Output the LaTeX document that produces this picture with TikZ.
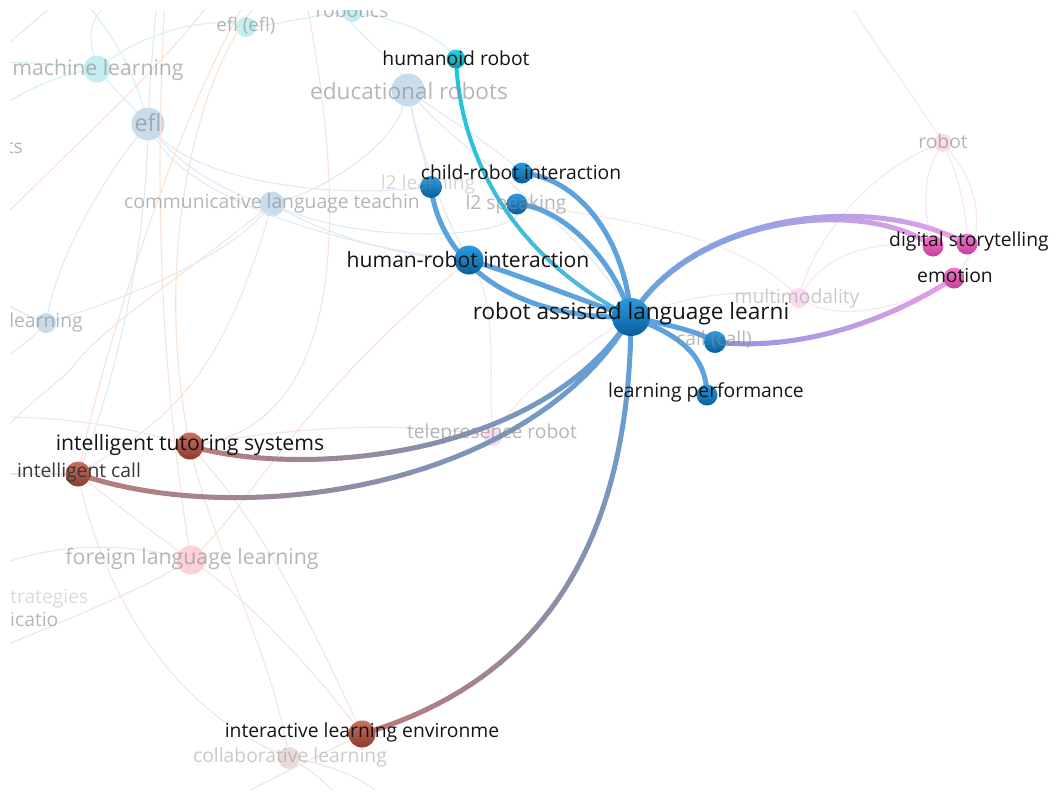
\documentclass[tikz,border=0pt]{standalone}
\usepackage{fontspec}
\setmainfont{Open Sans}
\definecolor{fcyan}{HTML}{D6F2F6}
\definecolor{fblue}{HTML}{DFEAF6}
\definecolor{forange}{HTML}{FAE3D6}
\definecolor{fred}{HTML}{F8E3E3}
\definecolor{fpink}{HTML}{FAE5F3}
\definecolor{eblue}{HTML}{5DA2DD}
\definecolor{ecyan}{HTML}{1CC6D8}
\definecolor{ecyanb}{HTML}{55B4E0}
\definecolor{epink}{HTML}{E8A0E6}
\definecolor{ebrown}{HTML}{B97B78}
\definecolor{elav}{HTML}{8E96E4}
\definecolor{nb1}{HTML}{2A9BE0}
\definecolor{nb2}{HTML}{0A5E9C}
\definecolor{nc1}{HTML}{22D4E4}
\definecolor{nc2}{HTML}{0A9AAE}
\definecolor{np1}{HTML}{F27CCC}
\definecolor{np2}{HTML}{C63E9A}
\definecolor{nr1}{HTML}{CC7060}
\definecolor{nr2}{HTML}{8A3C2E}
\definecolor{ncy}{HTML}{C2EEF2}
\definecolor{nbl}{HTML}{C8DCEC}
\definecolor{npk}{HTML}{FBD2D8}
\definecolor{nmg}{HTML}{FADCEE}
\definecolor{ncl}{HTML}{EBDADA}
\tikzset{
  lab/.style={font=\fontsize{19.3}{22}\selectfont, text=black!92, inner sep=0pt},
  flab/.style={font=\fontsize{19.3}{22}\selectfont, text=black!46, text opacity=0.62, inner sep=0pt},
  hb/.style={circle, inner sep=0pt, top color=nb1, bottom color=nb2},
  hc/.style={circle, inner sep=0pt, top color=nc1, bottom color=nc2},
  hp/.style={circle, inner sep=0pt, top color=np1, bottom color=np2},
  hr/.style={circle, inner sep=0pt, top color=nr1, bottom color=nr2},
  fn/.style={circle, inner sep=0pt, fill=#1},
  fe/.style={line width=1.1pt, draw=#1},
  be/.style={line width=5pt, draw=eblue, line cap=round},
}
\newcommand\gradedge[6]{%
  \foreach \k in {0,...,40}{%
    \pgfmathsetmacro\tpos{\k/40}%
    \path (#1.center) .. controls #3 .. (#2.center) coordinate[pos=\tpos] (gp\k);}%
  \foreach \k in {1,...,40}{%
    \pgfmathtruncatemacro\kp{\k-1}%
    \pgfmathsetmacro\cmix{101.25-2.5*\k}%
    \colorlet{gcol}{#4!\cmix!#5}%
    \draw[line width=#6, line cap=round, draw=gcol] (gp\kp) -- (gp\k);}%
}
\begin{document}
\begin{tikzpicture}[x=1pt,y=-1pt]
\useasboundingbox[fill=white] (0,0) rectangle (1061,793);
\begin{scope}
\clip (10,10) rectangle (1052,789);
% ---------- faded nodes ----------
\node[fn=ncy, minimum size=20] (robotics) at (352,12) {};
\node[fn=ncy, minimum size=20] (eflefl) at (246,27) {};
\node[fn=ncy, minimum size=27] (ml) at (97,69) {};
\node[fn=nbl, minimum size=33] (edu) at (408,90) {};
\node[fn=nbl, minimum size=33] (efl) at (148,124) {};
\node[fn=nbl, minimum size=25] (comm) at (272,204) {};
\node[fn=nbl, minimum size=20] (learn) at (46,323) {};
\node[fn=npk, minimum size=29] (fll) at (191,560) {};
\node[fn=nmg, minimum size=18] (tele) at (493,437) {};
\node[fn=nmg, minimum size=20] (multi) at (799,298) {};
\node[fn=nmg, minimum size=18] (robot) at (943,143) {};
\node[fn=ncl, minimum size=22] (collab) at (289,758) {};
% ---------- highlighted nodes (positions) ----------
\coordinate (cen) at (631,317);
\coordinate (hum) at (456,59);
\coordinate (l2l) at (431,187);
\coordinate (cri) at (522,173);
\coordinate (l2s) at (517,204);
\coordinate (hri) at (469,260);
\coordinate (call) at (715,342);
\coordinate (lp) at (707,395);
\coordinate (ds1) at (933,246);
\coordinate (ds2) at (967,244);
\coordinate (emo) at (954,278);
\coordinate (its) at (190,446);
\coordinate (ic) at (78,474);
\coordinate (ile) at (362,734);
% off-picture ends of faint links
\coordinate (o1) at (-5,55);   \coordinate (o2) at (65,-5);
\coordinate (o3) at (-5,225);  \coordinate (o4) at (215,-5);
\coordinate (o5) at (250,-5);  \coordinate (o6) at (265,-5);
\coordinate (o7) at (165,-5);  \coordinate (o8) at (305,-5);
\coordinate (o9) at (-5,62);   \coordinate (o10) at (-5,110);
\coordinate (o11) at (80,-5);  \coordinate (o12) at (157,-5);
\coordinate (o13) at (-5,300); \coordinate (o14) at (-5,365);
\coordinate (o15) at (-5,417); \coordinate (o16) at (-5,474);
\coordinate (o17) at (-5,440); \coordinate (o18) at (-5,567);
\coordinate (o19) at (340,800);\coordinate (o20) at (385,800);
\coordinate (o21) at (845,-5); \coordinate (o22) at (230,800);
\coordinate (o23) at (120,-5); \coordinate (o24) at (-5,650);
\coordinate (o25) at (330,-5);
% ---------- faint links ----------
\draw[fe=fcyan] (ml) .. controls (120,95) and (135,110) .. (efl);
\draw[fe=fcyan] (ml) .. controls (60,64) and (20,62) .. (o9);
\draw[fe=fcyan] (ml) .. controls (60,75) and (25,90) .. (o10);
\draw[fe=fcyan] (ml) .. controls (150,30) and (210,18) .. (eflefl);
\draw[fe=fcyan] (eflefl) .. controls (280,24) and (320,14) .. (robotics);
\draw[fe=fcyan] (o25) .. controls (360,40) and (395,60) .. (edu);
\draw[fe=fcyan] (robotics) .. controls (400,20) and (440,35) .. (hum);
\draw[fe=fcyan] (efl) .. controls (130,60) and (105,25) .. (o11);
\draw[fe=fcyan] (ml) .. controls (90,40) and (85,15) .. (o23);
\draw[fe=fblue] (efl) .. controls (150,70) and (155,30) .. (o12);
\draw[fe=fblue] (efl) .. controls (200,180) and (330,200) .. (l2l);
\draw[fe=fblue] (efl) .. controls (180,165) and (230,195) .. (comm);
\draw[fe=fblue] (efl) .. controls (190,200) and (350,250) .. (hri);
\draw[fe=fblue] (efl) .. controls (145,260) and (110,400) .. (ic);
\draw[fe=fblue] (edu) .. controls (420,150) and (445,220) .. (hri);
\draw[fe=fblue] (edu) .. controls (415,130) and (425,160) .. (l2l);
\draw[fe=fblue] (edu) .. controls (450,120) and (500,150) .. (cri);
\draw[fe=fblue] (edu) .. controls (390,150) and (320,190) .. (comm);
\draw[fe=fblue] (edu) .. controls (470,160) and (590,230) .. (cen);
\draw[fe=fblue] (comm) .. controls (330,235) and (400,258) .. (hri);
\draw[fe=fblue] (learn) .. controls (120,300) and (220,262) .. (comm);
\draw[fe=fblue] (learn) .. controls (60,250) and (110,170) .. (efl);
\draw[fe=fblue] (learn) .. controls (25,315) and (10,305) .. (o13);
\draw[fe=fblue] (learn) .. controls (30,340) and (10,355) .. (o14);
\draw[fe=fblue] (comm) .. controls (380,250) and (540,235) .. (l2s);
\draw[fe=forange] (o1) -- (o2);
\draw[fe=forange] (o3) .. controls (80,140) and (170,60) .. (o4);
\draw[fe=forange] (ic) .. controls (110,320) and (190,90) .. (o5);
\draw[fe=forange] (its) .. controls (150,250) and (200,60) .. (o6);
\draw[fe=forange] (fll) .. controls (150,300) and (160,100) .. (o7);
\draw[fe=forange] (o8) .. controls (350,220) and (345,430) .. (its);
\draw[fe=forange] (o17) .. controls (30,400) and (50,390) .. (70,370) .. controls (100,330) and (150,300) .. (comm);
\draw[fe=fred] (ic) .. controls (110,500) and (150,530) .. (fll);
\draw[fe=fred] (ic) .. controls (100,580) and (160,700) .. (collab);
\draw[fe=fred] (its) .. controls (210,540) and (270,650) .. (collab);
\draw[fe=fred] (its) .. controls (260,520) and (310,620) .. (ile);
\draw[fe=fred] (fll) .. controls (260,610) and (330,690) .. (ile);
\draw[fe=fred] (o18) .. controls (60,540) and (130,545) .. (fll);
\draw[fe=forange] (fll) .. controls (260,490) and (300,400) .. (hri);
\draw[fe=fred] (its) .. controls (110,420) and (40,417) .. (o15);
\draw[fe=fred] (ic) -- (o16);
\draw[fe=fred] (its) .. controls (280,428) and (400,420) .. (tele);
\draw[fe=fred] (collab) .. controls (310,770) and (330,785) .. (o19);
\draw[fe=fred] (collab) .. controls (330,765) and (370,780) .. (o20);
\draw[fe=fred] (ile) .. controls (330,750) and (250,790) .. (o22);
\draw[fe=fred] (fll) .. controls (120,600) and (40,630) .. (o24);
\draw[fe=fred] (ic) .. controls (170,420) and (220,380) .. (comm);
\draw[fe=fpink] (robot) .. controls (910,90) and (870,40) .. (o21);
\draw[fe=fpink] (robot) .. controls (920,180) and (925,220) .. (ds1);
\draw[fe=fpink] (robot) .. controls (960,180) and (968,220) .. (ds2);
\draw[fe=fpink] (robot) .. controls (990,200) and (980,250) .. (emo);
\draw[fe=fpink] (robot) .. controls (870,170) and (815,240) .. (multi);
\draw[fe=fpink] (multi) .. controls (830,250) and (880,240) .. (ds1);
\draw[fe=fpink] (multi) .. controls (850,325) and (920,300) .. (emo);
\draw[fe=fpink] (cen) .. controls (700,290) and (760,290) .. (multi);
\draw[fe=fpink] (cen) .. controls (560,360) and (515,400) .. (tele);
\draw[fe=fpink] (tele) .. controls (488,380) and (500,300) .. (hri);
\draw[fe=fpink] (l2s) .. controls (650,222) and (740,240) .. (multi);
% ---------- highlighted links ----------
\gradedge{hum}{cen}{(460,160) and (515,258)}{ecyan}{ecyanb}{4pt}
\draw[be] (l2l) .. controls (440,260) and (510,320) .. (cen);
\draw[be] (hri) .. controls (520,275) and (580,300) .. (cen);
\draw[be] (cri) .. controls (580,178) and (625,240) .. (cen);
\draw[be] (l2s) .. controls (565,208) and (615,262) .. (cen);
\draw[be] (cen) .. controls (670,325) and (700,332) .. (call);
\draw[be] (cen) .. controls (680,335) and (706,355) .. (lp);
\gradedge{cen}{ds1}{(690,218) and (860,195)}{eblue}{epink}{5pt}
\gradedge{cen}{ds2}{(690,215) and (870,190)}{eblue}{epink}{5pt}
\gradedge{call}{emo}{(800,352) and (890,320)}{elav}{epink}{5pt}
\gradedge{cen}{its}{(540,460) and (300,478)}{eblue}{ebrown}{5pt}
\gradedge{cen}{ic}{(530,490) and (240,530)}{eblue}{ebrown}{5pt}
\gradedge{cen}{ile}{(630,540) and (545,680)}{eblue}{ebrown}{5pt}
% ---------- highlighted nodes ----------
\node[hb, minimum size=38] (ncen) at (cen) {};
\node[hc, minimum size=19] (nhum) at (hum) {};
\node[hb, minimum size=22] (nl2l) at (l2l) {};
\node[hb, minimum size=21] (ncri) at (cri) {};
\node[hb, minimum size=21] (nl2s) at (l2s) {};
\node[hb, minimum size=29] (nhri) at (hri) {};
\node[hb, minimum size=22] (ncall) at (call) {};
\node[hb, minimum size=21] (nlp) at (lp) {};
\node[hp, minimum size=21] (nds1) at (ds1) {};
\node[hp, minimum size=21] (nds2) at (ds2) {};
\node[hp, minimum size=21] (nemo) at (emo) {};
\node[hr, minimum size=27] (nits) at (its) {};
\node[hr, minimum size=25] (nic) at (ic) {};
\node[hr, minimum size=27] (nile) at (ile) {};
% ---------- faded labels ----------
\node[flab] (t-robotics) at (352,10) {robotics};
\node[flab, font=\fontsize{18.7}{21}\selectfont] (t-eflefl) at (246,26) {efl (efl)};
\node[flab, font=\fontsize{21.2}{24}\selectfont] (t-ml) at (98,70) {machine learning};
\node[flab, font=\fontsize{22.6}{25}\selectfont] (t-edu) at (409,91) {educational robots};
\node[flab, font=\fontsize{23.4}{26}\selectfont] (t-efl) at (148,123) {efl};
\node[flab, anchor=east] (t-ts) at (23,147) {ts};
\node[flab] (t-comm) at (272,203) {communicative language teachin};
\node[flab, text opacity=0.35] (t-l2l) at (428,184) {l2 learning};
\node[flab] (t-l2s) at (516,204) {l2 speaking};
\node[flab] (t-learn) at (46,322) {learning};
\node[flab, text opacity=0.45] (t-multi) at (797,298) {multimodality};
\node[flab] (t-robot) at (943,141) {robot};
\node[flab] (t-call) at (714,340) {call (call)};
\node[flab] (t-tele) at (492,433) {telepresence robot};
\node[flab, font=\fontsize{21.3}{24}\selectfont] (t-fll) at (192,559) {foreign language learning};
\node[flab, text opacity=0.3, anchor=west] (t-strat) at (10,599) {trategies};
\node[flab, anchor=west] (t-icatio) at (10,620) {icatio};
\node[flab, text opacity=0.45] (t-collab) at (290,757) {collaborative learning};
% ---------- highlighted labels ----------
\node[lab] (t-hum) at (456,58) {humanoid robot};
\node[lab] (t-cri) at (521,172) {child-robot interaction};
\node[lab, font=\fontsize{21.1}{24}\selectfont] (t-hri) at (468,260) {human-robot interaction};
\node[lab, font=\fontsize{22.6}{25}\selectfont] (t-cen) at (631,314) {robot assisted language learni};
\node[lab] (t-ds) at (969,241) {digital storytelling};
\node[lab] (t-emo) at (955,276) {emotion};
\node[lab] (t-lp) at (706,392) {learning performance};
\node[lab, font=\fontsize{21.2}{24}\selectfont] (t-its) at (190,445) {intelligent tutoring systems};
\node[lab, text=black!78] (t-ic) at (79,472) {intelligent call};
\node[lab] (t-ile) at (362,732) {interactive learning environme};
\end{scope}
\end{tikzpicture}
\end{document}
